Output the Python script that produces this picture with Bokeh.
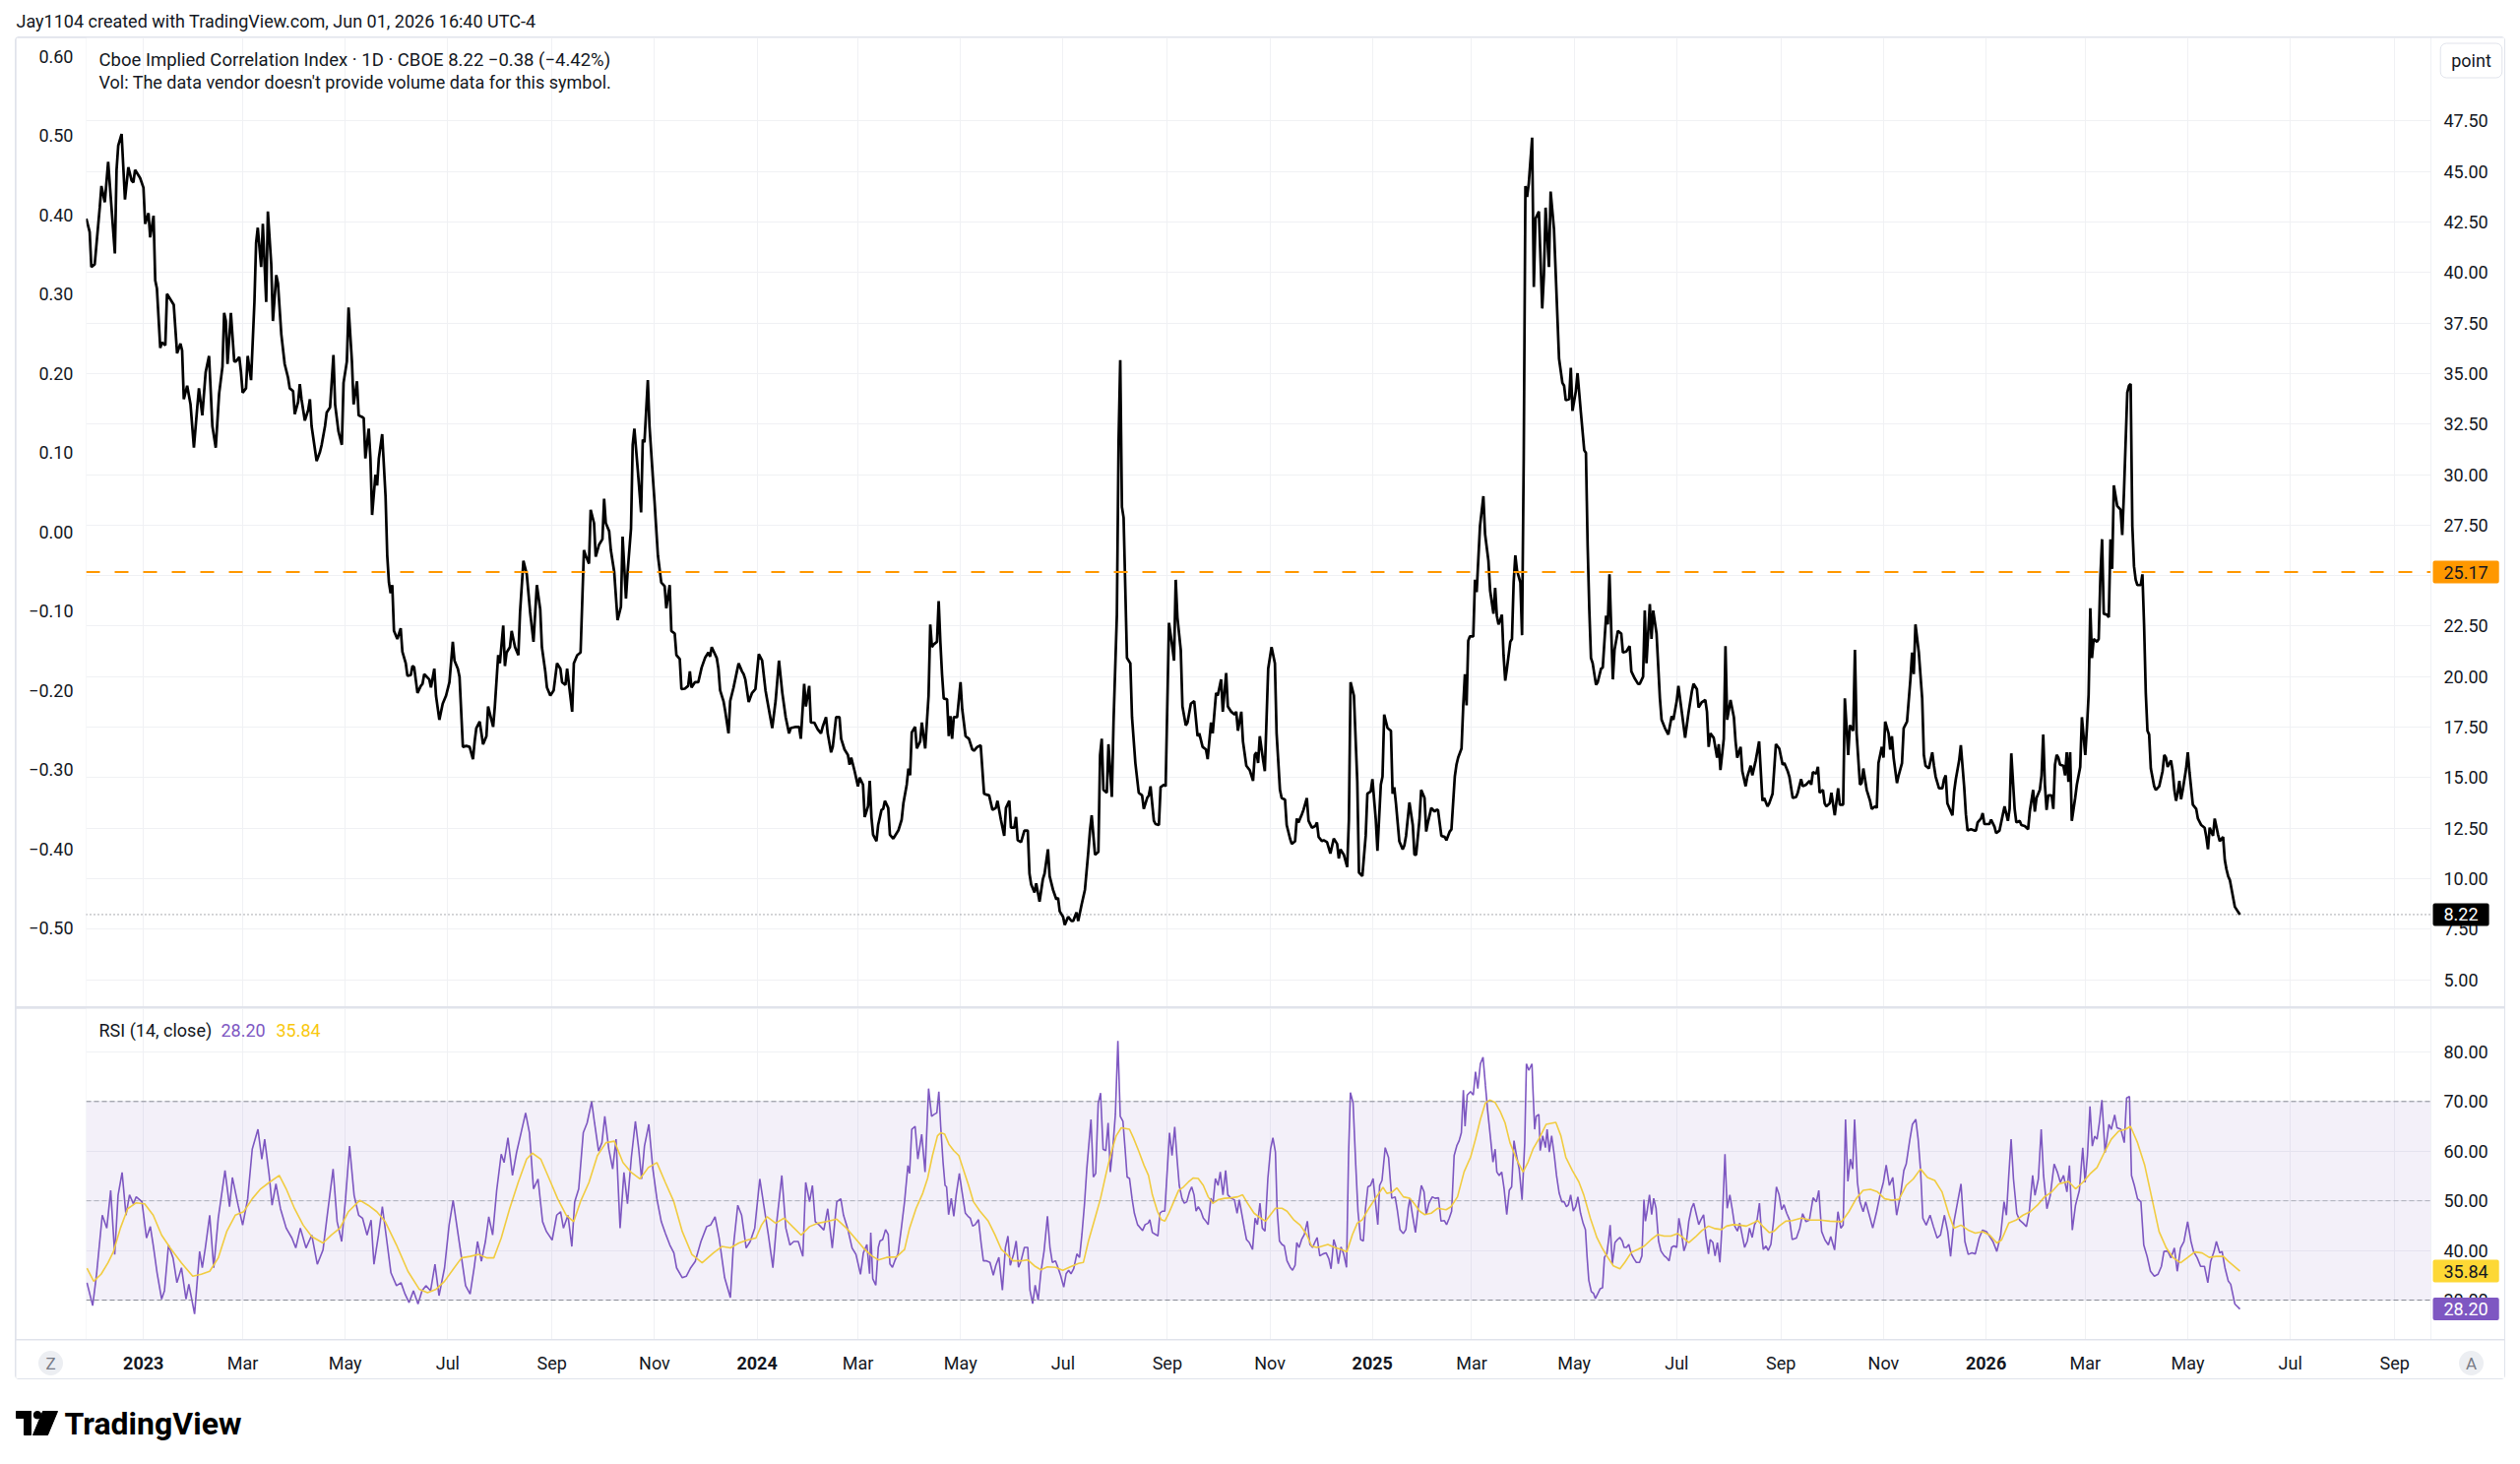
import numpy as np
import pandas as pd
from bokeh.plotting import figure
from bokeh.layouts import column, row
from bokeh.models import (Range1d, LinearAxis, FixedTicker, Span, BoxAnnotation, Label, Grid)
from bokeh.core.properties import value
from bokeh.embed import file_html
from bokeh.resources import INLINE

# ---------------------------------------------------------------- data
# x values are days counted from 2023-01-01
price = [(-34,42.67),(-32,42.01),(-31,40.27),(-29,40.41),(-26,43.21),(-25,44.28),(-23,43.48),(-21,45.48),
(-17,40.94),(-16,45.08),(-15,46.28),(-13,46.86),(-11,43.61),(-9,45.21),(-7,44.54),(-6,44.46),(-5,45.08),
(-2,44.68),(0,44.20),(1,42.41),(3,42.94),(4,41.74),(6,42.81),(7,39.61),(8,39.21),(10,36.27),(11,36.54),
(13,36.40),(14,38.94),(18,38.41),(20,36.00),(22,36.48),(23,36.14),(24,33.73),(26,34.40),(28,33.47),
(30,31.33),(32,33.33),(33,34.27),(35,32.93),(37,35.07),(39,35.87),(41,32.40),(43,31.33),(45,34.00),
(47,35.34),(48,38.00),(49,37.60),(50,35.47),(52,38.00),(54,35.60),(55,35.60),(57,35.82),(58,35.07),
(59,34.05),(61,34.27),(62,35.87),(64,34.67),(66,38.54),(67,41.47),(68,42.22),(70,40.27),(71,42.41),
(73,38.54),(74,43.02),(76,40.41),(77,37.60),(79,39.87),(80,39.47),(82,36.94),(84,35.47),(86,34.80),
(87,34.27),(89,34.13),(90,32.99),(92,33.60),(93,34.48),(94,33.73),(96,32.67),(98,33.20),(99,33.73),
(100,32.40),(103,30.67),(105,31.12),(106,31.47),(108,32.40),(109,33.07),(111,33.33),(113,35.92),
(114,33.47),(116,32.13),(118,31.47),(119,34.54),(121,35.60),(122,38.27),(124,35.60),(125,33.47),
(127,34.62),(128,32.93),(130,32.85),(131,32.80),(132,30.80),(134,32.27),(135,30.80),(136,28.00),
(138,30.00),(139,29.46),(140,30.80),(142,32.00),(144,28.93),(145,26.00),(146,24.66),(147,24.13),
(148,24.53),(149,22.26),(151,21.86),(153,22.39),(154,21.24),(156,20.66),(157,20.04),(159,20.07),
(160,20.52),(161,20.47),(163,19.19),(165,19.54),(166,19.64),(167,20.12),(170,19.86),(171,19.46),
(173,20.39),(174,19.06),(176,17.86),(178,18.66),(180,19.06),(182,19.72),(184,21.72),(185,20.79),
(187,20.39),(188,19.99),(190,16.52),(192,16.57),(194,16.52),(196,15.91),(197,16.79),(198,17.45),
(200,17.77),(202,16.65),(204,17.05),(205,18.52),(208,17.51),(209,18.52),(211,21.06),(212,20.66),
(214,22.53),(215,20.52),(216,21.19),(218,21.46),(219,22.26),(221,21.46),(223,21.06),(224,23.19),
(226,25.73),(228,25.06),(230,23.19),(232,21.72),(234,24.53),(236,23.33),(237,21.46),(239,20.26),
(240,19.46),(242,19.06),(244,19.32),(246,20.66),(248,20.39),(249,19.72),(251,19.59),(252,20.39),
(255,18.26),(256,20.66),(258,21.06),(260,21.19),(262,26.26),(263,26.00),(265,25.59),(266,28.26),
(268,27.60),(269,25.94),(271,26.53),(273,26.80),(274,28.80),(275,27.60),(277,27.20),(278,26.26),
(280,25.19),(282,22.79),(284,23.46),(285,26.93),(287,23.86),(288,25.19),(290,27.33),(291,31.47),
(292,32.27),(294,30.26),(296,28.13),(297,31.73),(298,31.60),(300,34.67),(301,32.40),(303,29.86),
(304,28.66),(306,25.99),(308,24.66),(310,24.47),(311,23.38),(313,24.53),(314,22.26),(316,22.13),
(317,21.06),(319,20.87),(320,19.38),(322,19.40),(324,19.54),(325,20.26),(326,19.46),(328,19.72),
(330,19.72),(332,20.44),(334,20.92),(336,21.19),(337,20.98),(338,21.46),(341,20.92),(342,20.39),
(343,19.32),(345,18.79),(346,18.31),(348,17.19),(349,18.79),(351,19.46),(353,20.26),(354,20.66),
(356,20.26),(357,20.12),(358,19.86),(360,18.74),(362,19.19),(364,19.38),(366,21.11),(368,20.79),
(370,19.32),(371,18.84),(374,17.45),(376,18.79),(378,20.79),(380,19.19),(382,17.99),(384,17.19),
(385,17.45),(388,17.51),(390,17.51),(391,16.92),(393,19.64),(394,18.52),(396,19.54),(397,17.72),
(399,17.72),(401,17.40),(403,17.19),(404,17.51),(406,17.99),(407,17.19),(409,16.25),(410,16.52),
(412,17.99),(414,17.99),(415,16.92),(417,16.39),(419,16.12),(420,15.64),(421,15.99),(423,15.32),
(425,14.57),(426,15.00),(428,14.65),(429,13.05),(431,13.58),(432,14.84),(433,13.05),(434,12.17),
(436,11.85),(437,12.65),(439,13.40),(440,13.45),(441,13.85),(443,13.50),(444,12.17),(446,11.98),
(448,12.25),(449,12.38),(451,12.92),(452,13.72),(454,14.65),(455,15.45),(456,15.11),(457,17.24),
(459,17.51),(460,16.44),(462,16.79),(463,17.72),(465,16.44),(467,19.06),(468,22.58),(469,21.46),
(470,21.59),(472,21.72),(473,23.73),(474,21.72),(475,20.12),(476,18.92),(478,18.87),(479,17.05),
(480,18.04),(481,16.92),(482,17.99),(484,17.99),(486,19.72),(487,18.39),(489,17.05),(491,16.92),
(493,16.39),(494,16.33),(496,16.52),(498,16.60),(500,14.20),(501,14.17),(503,14.12),(505,13.40),
(507,13.50),(508,13.85),(510,12.92),(512,12.12),(513,13.50),(515,13.85),(516,12.52),(518,12.52),
(519,13.05),(520,11.90),(522,11.80),(524,12.38),(526,12.38),(527,10.25),(528,9.72),(530,9.31),
(531,9.77),(533,8.86),(535,9.98),(536,10.25),(538,11.45),(539,10.12),(541,9.45),(543,8.97),
(544,9.05),(545,8.38),(547,8.11),(548,7.71),(550,8.11),(552,7.90),(553,7.90),(555,8.33),(556,7.90),
(558,8.70),(560,9.45),(562,11.32),(563,12.38),(564,13.13),(566,11.18),(568,11.32),(569,16.12),
(570,16.92),(571,14.39),(573,14.25),(574,16.65),(576,14.04),(577,17.72),(579,23.06),(580,31.60),
(581,35.66),(582,28.40),(583,27.86),(585,20.92),(587,20.66),(588,17.99),(590,15.72),(592,14.25),
(594,14.12),(595,13.45),(597,13.99),(598,14.12),(599,14.57),(601,12.86),(602,12.70),(604,12.65),
(605,14.52),(607,14.65),(608,14.57),(610,22.66),(612,21.46),(613,20.79),(614,24.79),(615,22.93),
(617,21.32),(618,18.52),(620,17.59),(621,17.72),(623,18.66),(625,18.79),(627,17.05),(628,17.19),
(630,16.52),(632,16.39),(633,15.91),(635,17.72),(636,17.19),(638,19.19),(639,19.06),(641,19.86),
(642,18.26),(644,20.18),(645,18.52),(647,18.26),(649,18.12),(650,18.26),(651,17.32),(653,18.26),
(654,16.79),(656,15.59),(658,15.37),(660,14.84),(661,16.12),(662,16.25),(663,15.72),(664,17.05),
(666,15.85),(667,15.32),(669,20.39),(671,21.46),(673,20.66),(674,17.19),(676,14.39),(677,13.99),
(679,13.91),(680,12.65),(682,11.98),(683,11.72),(685,11.85),(686,12.97),(687,12.78),(689,13.18),
(690,13.40),(692,13.99),(693,12.86),(695,12.52),(697,12.60),(698,12.78),(699,12.06),(701,11.85),
(702,11.90),(704,11.80),(706,11.24),(708,11.98),(710,11.72),(711,11.00),(712,11.45),(714,11.18),
(716,10.57),(717,12.92),(718,19.72),(720,19.06),(722,14.79),(723,10.30),(725,10.12),(727,12.12),
(728,14.20),(730,14.31),(731,14.92),(733,12.92),(734,11.37),(736,14.65),(737,15.05),(738,18.12),
(740,17.45),(742,17.32),(743,14.20),(744,14.52),(745,13.72),(747,11.85),(749,11.45),(750,11.64),
(751,12.12),(753,13.77),(755,12.65),(756,11.18),(757,11.18),(759,12.92),(760,14.39),(762,13.99),
(763,12.33),(764,12.78),(766,13.50),(768,13.32),(769,13.40),(770,13.40),(772,12.12),(774,12.06),
(775,11.90),(777,12.33),(778,12.44),(780,15.05),(781,15.64),(782,15.99),(784,16.44),(785,18.52),
(786,20.12),(787,18.58),(788,21.78),(789,21.99),(791,21.99),(792,24.79),(793,24.18),(795,27.46),
(797,28.93),(798,27.06),(800,25.73),(801,24.26),(803,23.11),(804,24.39),(805,23.01),(806,22.58),
(807,22.79),(808,23.06),(809,21.06),(810,19.80),(811,20.39),(813,21.72),(814,21.86),(815,24.66),
(816,26.00),(817,25.25),(819,24.66),(820,22.05),(821,30.80),(822,44.28),(823,43.74),(824,44.41),
(826,46.68),(827,39.29),(828,42.67),(830,43.02),(832,38.22),(833,39.87),(834,43.21),(836,40.27),
(837,44.01),(839,42.14),(842,35.74),(844,34.54),(845,34.40),(846,33.68),(848,33.73),(849,35.28),
(850,33.15),(852,34.13),(853,35.02),(855,33.07),(857,31.20),(858,31.07),(859,26.53),(860,23.33),
(861,20.92),(862,20.66),(864,19.59),(865,19.72),(867,20.39),(868,20.44),(870,23.01),(871,22.58),
(872,25.06),(874,19.86),(875,21.32),(877,22.26),(879,22.13),(880,21.19),(882,21.24),(884,21.51),
(885,20.26),(887,19.91),(889,19.64),(890,19.64),(892,19.99),(893,23.27),(894,20.66),(896,23.59),
(897,21.86),(898,23.27),(900,22.13),(902,18.92),(903,17.86),(905,17.45),(907,17.13),(909,18.04),
(910,17.86),(912,18.79),(913,19.54),(915,18.26),(917,16.97),(919,18.20),(921,19.27),(922,19.64),
(924,19.38),(925,18.47),(927,18.74),(929,18.84),(930,18.26),(931,16.52),(932,17.19),(934,16.97),
(936,15.99),(937,16.65),(938,15.37),(940,16.92),(941,21.51),(942,17.86),(944,18.84),(946,17.99),
(947,16.79),(948,15.99),(950,16.52),(951,15.32),(953,14.57),(954,15.05),(956,15.59),(957,15.11),
(959,15.85),(961,16.79),(963,13.85),(964,13.99),(966,13.58),(967,13.72),(969,14.20),(971,16.65),
(973,16.44),(975,15.64),(976,15.72),(978,15.32),(979,15.05),(981,13.99),(983,14.04),(984,14.25),
(986,14.92),(987,14.57),(989,14.65),(991,14.84),(992,14.65),(993,15.27),(995,15.19),(996,15.53),
(997,14.25),(999,14.39),(1000,13.72),(1001,13.58),(1003,13.72),(1004,14.25),(1006,13.13),
(1008,14.47),(1009,13.66),(1011,13.66),(1012,18.92),(1014,16.12),(1015,17.59),(1017,17.32),
(1018,21.32),(1019,17.19),(1021,14.65),(1022,14.73),(1023,15.45),(1025,14.39),(1027,13.85),
(1028,13.45),(1030,13.58),(1031,13.50),(1032,15.72),(1034,16.52),(1035,15.99),(1036,17.77),
(1038,17.19),(1039,16.39),(1040,17.05),(1041,15.99),(1043,14.73),(1044,15.11),(1046,15.72),
(1047,17.45),(1049,17.77),(1051,19.86),(1052,21.19),(1053,20.12),(1054,22.58),(1056,21.19),
(1058,18.92),(1059,16.12),(1060,15.59),(1062,15.45),(1064,16.25),(1065,15.59),(1066,15.05),
(1068,14.47),(1070,14.47),(1071,14.92),(1072,15.11),(1073,13.72),(1076,13.13),(1077,14.31),
(1078,14.92),(1080,15.85),(1081,16.60),(1083,14.52),(1084,13.18),(1085,12.38),(1087,12.44),
(1089,12.38),(1090,12.38),(1091,12.78),(1093,12.97),(1094,13.24),(1095,12.70),(1096,12.70),
(1098,12.70),(1099,12.92),(1101,12.57),(1102,12.25),(1104,12.38),(1106,13.18),(1107,13.58),
(1109,12.86),(1110,13.45),(1111,16.20),(1113,13.45),(1114,12.78),(1116,12.86),(1117,12.65),
(1119,12.60),(1121,12.44),(1122,13.32),(1124,14.39),(1125,13.32),(1126,13.99),(1128,14.39),
(1129,15.11),(1130,17.13),(1131,14.65),(1132,13.40),(1133,14.12),(1135,14.12),(1136,13.45),
(1137,15.64),(1138,16.12),(1139,15.99),(1140,15.64),(1142,15.59),(1143,15.11),(1144,16.25),
(1145,14.79),(1146,16.25),(1147,12.86),(1149,13.99),(1150,14.65),(1152,15.53),(1153,17.99),
(1154,17.05),(1155,16.12),(1156,17.45),(1157,19.11),(1158,23.38),(1159,20.92),(1160,21.86),
(1162,21.72),(1163,21.86),(1164,24.93),(1165,26.80),(1166,23.11),(1168,23.06),(1169,22.93),
(1170,26.80),(1171,25.33),(1172,29.46),(1174,28.45),(1176,28.26),(1177,27.01),(1178,29.06),
(1180,34.05),(1181,34.40),(1182,34.48),(1183,27.46),(1184,25.46),(1185,24.79),(1186,24.53),
(1188,24.53),(1189,25.06),(1190,22.53),(1191,19.19),(1192,17.32),(1193,17.13),(1194,15.45),
(1196,14.57),(1197,14.39),(1199,14.57),(1201,15.32),(1202,16.12),(1203,15.99),(1204,15.53),
(1206,15.85),(1207,15.32),(1208,14.39),(1209,13.85),(1210,14.25),(1211,14.84),(1212,13.93),
(1213,14.39),(1215,15.45),(1216,16.25),(1217,15.27),(1219,13.66),(1221,13.45),(1222,12.97),
(1224,12.65),(1226,12.52),(1227,12.06),(1228,11.45),(1229,12.52),(1231,12.12),(1232,12.97),
(1234,12.17),(1235,11.85),(1237,12.06),(1238,10.92),(1239,10.46),(1240,10.12),(1241,9.93),
(1244,8.60),(1247,8.22)]

rsi = [(-33.6,33.5),(-30.2,28.9),(-27.9,35.2),(-24.5,47.1),(-21.8,44.5),(-19.5,52.1),(-17.1,39.2),
(-15.1,51.1),(-12.7,55.7),(-10.4,47.1),(-8.3,51.2),(-6.0,49.4),(-4.3,50.8),(-0.9,49.8),(1.8,42.5),
(4.1,44.8),(5.8,41.1),(8.1,35.5),(10.8,30.2),(12.5,31.9),(14.9,41.1),(17.6,38.5),(19.9,33.5),
(22.6,36.5),(25.3,30.2),(27.0,33.2),(30.4,27.2),(33.4,39.8),(35.0,36.5),(36.8,40.5),(39.4,47.1),
(41.8,36.5),(44.5,46.5),(48.5,56.1),(51.2,48.8),(52.9,54.7),(56.3,49.1),(59.0,45.1),(62.0,50.4),
(64.7,60.4),(68.1,64.4),(70.4,58.4),(72.1,62.4),(74.8,55.1),(76.5,49.1),(78.8,53.4),(81.5,48.4),
(84.9,44.5),(88.3,42.5),(90.6,40.5),(93.3,44.5),(96.7,40.5),(100.1,43.1),(103.4,37.2),(106.8,40.1),
(109.1,46.5),(112.8,56.4),(115.2,45.8),(117.9,41.8),(120.2,50.4),(122.6,61.0),(125.3,51.1),
(128.0,47.1),(130.3,46.5),(133.0,43.1),(135.4,46.1),(137.1,37.2),(139.8,43.1),(142.1,48.8),
(144.8,41.8),(147.2,35.5),(150.5,32.9),(153.2,33.5),(155.6,31.2),(158.0,29.5),(160.6,31.9),
(163.3,29.2),(165.7,31.9),(168.0,32.9),(170.8,31.9),(173.4,37.2),(175.8,30.9),(179.1,36.5),
(181.8,45.1),(184.2,50.1),(186.9,43.8),(189.2,38.5),(191.6,32.9),(194.3,31.2),(196.7,36.5),
(198.7,41.8),(201.0,37.8),(203.4,41.8),(205.4,46.8),(207.7,43.1),(210.1,52.1),(212.8,59.4),
(214.5,57.7),(216.8,62.7),(219.5,55.1),(221.9,59.7),(224.6,63.7),(227.3,67.7),(229.6,63.7),
(232.0,52.4),(234.7,54.4),(237.4,45.8),(239.7,43.8),(243.1,42.1),(245.8,47.1),(248.1,47.8),
(249.8,44.5),(252.5,47.1),(254.8,40.8),(256.5,49.8),(258.9,52.4),(261.6,63.7),(263.9,65.7),
(266.6,70.0),(268.3,65.7),(270.7,60.0),(272.7,61.7),(274.4,67.0),(276.8,60.4),(279.1,56.4),
(281.1,62.4),(283.5,44.5),(285.8,55.7),(287.9,49.4),(290.2,58.7),(292.6,66.0),(294.6,60.4),
(296.3,54.4),(298.0,61.0),(300.6,65.4),(303.0,56.4),(305.4,50.4),(308.0,45.8),(310.4,43.5),
(313.1,41.1),(315.5,39.5),(317.1,36.5),(320.5,34.5),(322.9,34.8),(325.5,36.5),(328.2,37.8),
(331.6,41.8),(335.0,44.8),(337.3,45.1),(340.0,46.8),(342.4,42.5),(345.7,34.5),(349.1,30.5),
(350.8,40.5),(353.5,49.1),(355.8,47.1),(358.5,40.5),(360.9,41.8),(363.6,44.5),(366.6,54.4),
(369.3,48.4),(371.7,43.1),(374.4,36.5),(376.7,45.8),(379.7,55.1),(382.1,44.5),(384.5,41.1),
(386.8,41.8),(389.5,41.8),(392.2,38.8),(393.9,53.7),(396.2,49.8),(397.9,53.1),(399.6,45.8),
(402.0,45.1),(404.7,44.1),(407.0,48.4),(409.7,40.5),(412.4,49.8),(414.8,50.4),(416.4,47.1),
(418.8,44.5),(421.5,40.5),(423.8,39.2),(426.5,35.2),(428.2,39.5),(430.3,41.2),(431.9,35.3),
(432.6,43.6),(433.8,34.3),(435.6,33.0),(437.1,40.6),(438.1,41.9),(439.7,42.2),(441.4,44.2),
(443.0,43.2),(444.0,37.3),(445.5,36.6),(446.9,37.9),(448.8,39.3),(450.8,44.5),(452.7,49.8),
(454.7,57.1),(455.7,55.5),(457.0,64.4),(459.0,65.0),(460.6,58.4),(462.9,63.4),(464.9,55.8),
(467.0,72.6),(468.8,67.0),(470.3,67.4),(471.9,67.7),(473.1,72.0),(474.2,65.0),(475.6,57.8),
(476.8,53.1),(477.7,52.8),(478.9,47.2),(480.5,50.5),(482.0,46.9),(483.4,51.2),(485.3,55.5),
(486.9,51.8),(488.9,47.5),(490.4,46.9),(491.8,46.5),(493.2,44.9),(494.7,45.2),(496.7,46.2),
(498.2,41.6),(499.6,37.9),(501.5,37.9),(503.5,37.6),(505.5,35.0),(507.0,37.0),(508.8,38.6),
(510.9,32.0),(512.7,40.6),(514.2,42.9),(515.6,37.0),(517.6,39.3),(519.1,41.9),(520.5,36.6),
(522.0,37.9),(524.0,40.6),(526.0,40.6),(527.3,32.0),(528.9,29.3),(530.4,33.0),(532.2,30.0),
(533.8,35.6),(535.7,39.9),(537.7,46.9),(539.2,40.6),(540.6,37.6),(542.5,37.9),(543.9,36.6),
(545.5,35.0),(547.4,32.6),(548.8,35.3),(550.3,36.0),(551.7,35.3),(553.3,36.3),(555.2,39.3),
(556.8,38.6),(558.2,43.2),(559.7,49.2),(561.1,56.4),(563.6,66.4),(565.0,54.8),(566.4,55.5),
(567.9,69.7),(569.3,71.7),(570.8,60.4),(572.4,60.1),(573.8,65.7),(575.1,55.8),(576.7,61.1),
(578.1,67.4),(579.6,82.2),(581.0,67.0),(582.6,66.0),(583.9,60.4),(585.1,54.8),(586.5,54.5),
(588.0,50.5),(589.4,47.5),(591.3,45.2),(594.3,44.0),(595.8,45.2),(597.6,45.5),(598.6,46.2),
(600.1,43.6),(602.1,43.2),(603.4,42.9),(604.6,47.5),(606.0,47.9),(607.5,47.9),(608.9,55.8),
(610.3,63.7),(611.8,59.1),(613.4,64.9),(614.8,58.4),(616.1,53.1),(617.7,50.5),(619.1,49.5),
(620.6,49.8),(622.2,51.8),(623.5,52.8),(624.9,51.2),(626.1,47.9),(627.4,48.8),(629.0,47.9),
(630.4,46.5),(631.9,45.9),(633.3,45.2),(634.9,50.5),(636.2,49.5),(637.6,54.5),(639.2,53.1),
(640.5,55.8),(642.1,51.2),(643.7,56.1),(645.0,51.2),(647.0,50.5),(648.9,50.2),(650.5,47.5),
(651.8,50.2),(653.4,47.2),(654.8,44.5),(656.1,42.2),(657.7,41.6),(659.7,40.2),(661.2,46.5),
(662.6,45.2),(664.1,49.5),(665.5,44.5),(667.1,43.9),(668.8,54.5),(670.4,60.4),(671.8,62.7),
(673.3,59.8),(674.3,48.5),(675.7,41.9),(677.2,41.2),(678.6,40.9),(680.2,37.9),(682.1,36.6),
(683.5,36.0),(685.0,37.0),(686.0,41.6),(687.4,40.6),(688.9,42.2),(690.5,43.2),(692.3,45.9),
(693.8,41.2),(695.4,40.6),(696.7,41.6),(698.1,42.6),(699.7,38.9),(701.6,39.3),(703.5,39.5),
(705.1,38.3),(706.4,36.3),(708.0,42.2),(709.4,40.6),(710.7,37.3),(712.3,40.7),(713.9,39.3),
(715.6,36.6),(716.8,59.1),(717.9,71.8),(719.5,69.7),(721.1,57.1),(722.4,47.9),(724.0,42.2),
(725.6,41.9),(726.9,48.5),(728.3,52.8),(729.9,53.1),(731.4,54.5),(732.8,49.8),(734.2,45.2),
(735.3,53.1),(736.7,54.1),(738.6,60.7),(740.6,58.7),(742.5,50.5),(744.5,50.8),(745.9,47.9),
(747.4,44.2),(749.4,43.4),(750.9,44.2),(752.3,48.5),(753.3,50.5),(754.8,47.2),(756.6,43.6),
(758.2,48.5),(760.1,53.1),(761.7,51.8),(763.0,47.2),(764.6,49.5),(766.6,50.8),(768.3,50.5),
(770.3,50.6),(771.8,45.9),(773.8,46.0),(775.1,45.2),(776.7,46.5),(778.1,47.9),(779.6,59.1),
(781.2,61.1),(782.6,62.1),(783.9,63.7),(785.1,72.3),(786.1,65.0),(787.4,71.3),(789.4,72.0),
(791.0,71.3),(792.3,76.0),(793.7,72.6),(795.2,77.6),(796.8,78.9),(798.2,73.3),(799.5,68.3),
(801.1,63.1),(802.7,57.8),(804.0,60.4),(805.0,55.8),(806.4,55.1),(807.9,55.8),(809.3,52.5),
(810.9,47.2),(812.4,52.1),(813.8,52.8),(815.2,62.1),(816.7,59.1),(818.3,56.4),(820.0,50.2),
(821.6,61.7),(822.6,77.6),(824.0,76.3),(824.9,76.9),(825.9,77.6),(826.5,72.3),(827.5,64.4),
(828.4,67.0),(830.0,67.4),(830.8,60.1),(832.3,63.1),(833.9,60.7),(834.9,64.4),(836.2,59.8),
(837.6,63.1),(839.2,59.1),(840.5,55.1),(842.1,51.5),(843.7,49.8),(845.0,49.8),(846.4,48.8),
(847.6,49.2),(848.9,51.2),(850.5,47.9),(851.9,48.8),(853.2,50.8),(854.8,47.5),(856.3,45.5),
(857.7,44.2),(858.7,38.6),(859.7,34.0),(861.2,31.7),(862.6,31.3),(863.6,30.3),(865.1,31.3),
(866.5,32.3),(867.9,32.5),(869.0,38.6),(870.4,39.3),(871.4,41.9),(872.4,45.1),(873.7,37.3),
(875.3,41.6),(876.8,42.2),(878.2,42.6),(879.6,41.9),(880.7,40.6),(882.1,40.6),(883.5,41.2),
(885.0,39.3),(886.6,38.3),(888.0,37.6),(889.9,37.6),(891.3,38.9),(892.5,50.2),(893.4,45.9),
(894.4,47.9),(895.8,51.2),(897.1,47.2),(898.3,50.5),(899.7,48.5),(901.2,41.9),(902.6,39.9),
(904.6,38.9),(906.1,38.5),(907.5,37.9),(908.9,40.6),(910.4,40.9),(912.0,40.6),(913.3,46.5),
(914.7,43.9),(916.3,39.9),(917.6,41.2),(919.2,45.9),(920.8,48.5),(922.1,49.5),(923.7,47.2),
(925.1,45.2),(926.4,46.2),(928.0,47.2),(929.4,42.6),(930.9,39.3),(931.9,42.2),(933.5,41.6),
(934.8,38.9),(936.2,41.6),(937.7,37.6),(939.1,45.9),(940.7,59.4),(942.0,48.5),(943.6,51.2),
(945.2,47.9),(946.5,44.9),(948.1,43.9),(949.5,45.5),(951.0,42.9),(952.4,40.6),(954.0,41.9),
(955.3,44.5),(956.9,42.6),(958.3,45.2),(959.8,46.2),(961.2,49.5),(962.5,43.2),(963.5,40.2),
(965.1,40.9),(966.4,40.0),(968.0,41.2),(969.6,45.9),(971.3,52.8),(972.9,51.2),(974.4,48.2),
(975.8,49.2),(977.4,47.5),(979.1,46.2),(980.7,42.2),(983.2,42.5),(985.2,44.5),(986.9,47.4),
(988.9,45.8),(990.9,46.1),(993.1,50.6),(995.1,49.8),(996.5,52.1),(998.2,43.8),(1000.2,42.1),
(1002.2,41.1),(1003.6,42.8),(1005.9,40.1),(1007.9,47.8),(1009.6,44.5),(1011.0,45.1),(1012.4,66.4),
(1013.8,53.9),(1015.3,58.4),(1016.7,56.4),(1017.8,66.4),(1019.5,53.7),(1021.0,49.8),(1022.9,47.8),
(1024.4,49.8),(1026.3,47.4),(1028.6,44.5),(1030.9,47.8),(1032.9,51.1),(1034.9,53.7),(1036.6,57.2),
(1038.5,53.1),(1040.5,54.7),(1042.8,47.1),(1045.1,51.1),(1047.1,56.1),(1048.5,57.4),(1050.7,62.4),
(1052.2,65.4),(1054.2,66.4),(1055.6,62.4),(1057.0,56.4),(1058.4,46.5),(1060.4,45.1),(1062.7,47.1),
(1064.7,44.8),(1066.9,42.5),(1068.9,43.1),(1071.2,47.1),(1073.2,43.8),(1074.9,38.8),(1076.9,45.8),
(1079.1,49.8),(1081.1,53.4),(1083.4,41.8),(1085.4,39.2),(1087.6,39.5),(1089.6,39.3),(1091.9,42.5),
(1093.9,44.1),(1096.2,43.8),(1098.2,42.8),(1100.1,41.8),(1102.4,39.8),(1104.7,43.1),(1106.7,49.8),
(1108.1,47.1),(1109.5,55.1),(1110.9,62.4),(1112.3,54.4),(1114.3,47.4),(1116.0,46.1),(1118.0,45.5),
(1120.0,44.8),(1121.7,47.8),(1123.7,55.1),(1125.1,51.1),(1127.1,54.4),(1128.8,64.4),(1130.2,55.1),
(1132.2,48.4),(1134.2,51.1),(1136.5,57.4),(1138.5,55.7),(1140.2,53.7),(1142.1,55.1),(1144.1,51.8),
(1145.6,57.1),(1147.3,44.1),(1149.2,49.1),(1151.5,52.1),(1153.5,60.7),(1154.9,53.7),(1156.3,59.1),
(1157.8,69.0),(1159.2,61.0),(1160.6,63.0),(1162.0,62.4),(1163.4,65.7),(1164.9,70.3),(1166.8,59.7),
(1169.1,65.4),(1170.5,64.4),(1172.5,67.3),(1173.9,64.7),(1176.2,64.4),(1178.2,61.7),(1179.6,70.7),
(1181.3,71.0),(1182.5,55.1),(1184.2,53.1),(1186.1,50.4),(1188.1,49.8),(1189.8,41.1),(1191.8,38.8),
(1193.8,35.8),(1196.1,34.8),(1198.3,35.2),(1200.3,36.8),(1201.8,39.8),(1204.0,39.9),(1206.0,38.5),
(1208.0,40.5),(1209.7,35.8),(1211.7,40.5),(1213.7,41.8),(1215.9,45.8),(1217.9,41.8),(1219.4,39.8),
(1221.6,38.5),(1223.6,36.8),(1225.9,36.8),(1227.9,33.5),(1229.6,37.8),(1231.6,39.8),(1233.0,41.8),
(1235.0,39.5),(1236.4,39.8),(1238.1,36.5),(1240.1,33.8),(1241.5,33.2),(1244.0,29.2),(1247.0,28.2)]

rsi_ma = [(-33.6,36.4),(-29.6,33.8),(-25.2,35.2),(-21.1,37.5),(-17.8,39.8),(-13.7,44.5),(-9.4,48.4),
(-4.3,49.6),(0.7,49.4),(5.8,47.1),(10.8,43.1),(15.9,40.5),(22.6,37.5),(29.3,34.8),(34.4,35.2),
(39.4,35.8),(44.5,38.5),(49.5,43.8),(54.6,47.1),(59.6,47.8),(64.7,50.4),(69.7,52.4),(74.8,53.7),
(80.8,55.1),(84.9,52.4),(89.9,48.4),(95.0,45.1),(100.1,42.8),(106.8,41.5),(111.8,43.1),(116.9,44.5),
(121.9,47.8),(128.7,50.1),(133.7,49.1),(138.8,47.8),(143.8,45.8),(150.5,41.1),(157.3,35.8),
(164.0,32.2),(169.0,31.5),(174.1,32.2),(179.1,33.8),(184.2,36.2),(189.2,38.5),(194.3,38.8),
(199.3,39.2),(204.4,38.5),(208.4,38.5),(212.8,42.5),(217.8,48.4),(222.9,53.7),(227.9,58.4),
(231.3,59.6),(236.3,58.4),(241.4,54.4),(246.4,50.4),(251.5,47.1),(255.9,45.8),(259.9,49.8),
(265.0,53.7),(270.0,59.1),(275.1,61.7),(280.1,62.0),(285.2,57.7),(290.2,55.7),(295.3,54.4),
(300.3,56.7),(305.4,57.7),(310.4,53.7),(315.5,49.8),(320.5,43.8),(326.2,39.2),(332.3,37.5),
(339.0,39.5),(344.1,40.8),(349.1,40.5),(354.2,41.5),(359.2,42.1),(364.3,42.5),(367.6,45.1),
(371.0,46.8),(376.0,45.5),(381.1,46.5),(386.1,44.8),(391.2,43.1),(396.2,44.8),(401.3,45.5),
(406.3,45.8),(412.4,46.3),(418.1,44.5),(423.2,42.5),(428.2,40.5),(433.2,38.9),(437.1,38.1),
(442.0,38.6),(447.9,38.7),(452.7,40.2),(455.7,44.5),(459.6,48.5),(463.5,51.5),(466.4,54.5),
(469.3,59.1),(472.3,63.1),(474.2,63.7),(476.6,63.4),(479.1,61.4),(482.0,60.1),(485.0,59.1),
(487.9,56.1),(490.8,53.1),(493.7,49.8),(497.6,47.9),(502.5,45.9),(506.4,43.2),(510.3,40.2),
(513.3,39.3),(517.2,37.9),(522.0,37.9),(526.0,38.1),(529.9,36.9),(533.8,36.1),(537.7,36.7),
(542.5,36.6),(546.8,36.0),(551.3,36.7),(556.2,37.4),(559.1,37.6),(562.1,41.9),(566.0,46.5),
(569.3,50.5),(572.8,55.8),(575.7,59.8),(578.6,63.1),(581.6,64.7),(586.5,64.4),(588.8,62.7),
(591.9,60.1),(595.2,57.1),(597.8,55.1),(600.1,51.2),(603.1,47.9),(605.4,46.2),(607.5,45.9),
(609.9,47.5),(612.8,49.8),(615.7,52.1),(618.7,52.8),(621.6,53.8),(624.5,54.6),(627.4,54.5),
(630.4,53.1),(633.3,50.8),(636.2,49.5),(639.2,50.2),(643.1,50.5),(647.0,50.6),(650.9,50.8),
(653.8,51.2),(656.7,49.5),(660.6,47.5),(664.5,46.5),(667.5,45.9),(670.4,47.2),(673.3,48.5),
(677.2,48.5),(680.2,47.9),(684.1,46.2),(688.0,45.1),(691.9,43.2),(694.8,40.9),(697.7,40.6),
(699.6,40.7),(704.5,41.2),(708.4,40.6),(712.3,40.2),(715.8,39.7),(719.1,43.2),(722.0,45.5),
(725.0,46.2),(728.9,48.5),(732.8,50.5),(737.3,52.7),(739.6,51.5),(742.5,51.7),(745.5,52.6),
(749.4,50.8),(753.3,50.5),(756.2,49.3),(759.1,47.9),(762.1,47.2),(766.0,47.5),(769.9,48.5),
(774.8,48.2),(777.7,48.8),(781.6,50.8),(785.5,55.8),(789.4,58.8),(792.3,62.4),(795.2,66.4),
(798.2,69.7),(800.7,70.3),(804.0,69.8),(807.0,68.0),(809.9,65.7),(812.8,61.7),(816.7,58.4),
(820.6,55.8),(823.6,57.8),(826.5,60.4),(830.4,62.7),(834.3,65.4),(837.2,65.6),(840.1,65.8),
(843.1,63.1),(846.0,58.8),(849.9,56.1),(853.8,53.8),(856.7,51.2),(860.6,46.5),(864.5,42.6),
(867.5,40.6),(870.4,38.9),(874.3,36.9),(878.2,36.3),(881.1,37.6),(885.0,39.6),(888.9,40.2),
(892.8,40.9),(896.8,42.2),(900.7,43.2),(904.6,42.9),(908.5,42.9),(912.4,43.4),(915.3,42.7),
(919.2,41.6),(923.1,42.7),(927.0,44.0),(930.9,44.9),(934.8,44.4),(938.7,44.2),(941.6,44.9),
(945.5,45.2),(949.5,45.1),(953.4,44.9),(957.3,45.5),(960.2,46.0),(963.1,44.9),(967.0,43.6),
(970.0,43.9),(972.9,44.9),(976.8,45.9),(980.7,46.0),(986.0,46.5),(991.7,46.1),(997.4,46.1),
(1003.1,45.9),(1010.2,45.8),(1014.4,47.8),(1018.7,50.4),(1022.9,52.1),(1027.2,52.3),(1031.4,51.8),
(1035.7,50.4),(1040.0,50.1),(1044.2,50.3),(1048.5,53.1),(1052.7,54.4),(1057.0,56.4),(1061.2,54.7),
(1065.5,54.1),(1069.8,51.8),(1074.0,47.1),(1076.9,44.5),(1081.1,45.1),(1085.4,44.1),(1089.6,43.5),
(1093.9,43.8),(1098.2,43.1),(1102.4,41.5),(1105.2,42.1),(1109.5,45.5),(1113.8,46.1),(1118.0,47.1),
(1122.3,47.8),(1126.5,49.1),(1130.8,50.8),(1135.1,51.8),(1139.3,53.4),(1145.0,53.9),(1149.2,52.4),
(1153.5,53.7),(1157.8,55.4),(1162.0,56.7),(1166.3,59.7),(1170.5,62.4),(1174.8,64.0),(1179.0,64.4),
(1181.9,65.0),(1186.1,61.7),(1190.4,57.1),(1194.7,50.4),(1198.9,43.8),(1203.2,40.5),(1207.4,38.5),
(1211.7,37.5),(1216.0,38.6),(1220.2,39.7),(1224.5,39.5),(1228.7,38.6),(1233.0,38.8),(1237.2,38.8),
(1240.1,37.8),(1247.0,35.84)]

hline_level = 25.17
last_close = 8.22
last_rsi = 28.20
last_rsi_ma = 35.84

price_ticks = [5.0, 7.5, 10.0, 12.5, 15.0, 17.5, 20.0, 22.5, 25.0, 27.5, 30.0, 32.5, 35.0, 37.5, 40.0, 42.5, 45.0, 47.5]
left_ticks = [0.6, 0.5, 0.4, 0.3, 0.2, 0.1, 0.0, -0.1, -0.2, -0.3, -0.4, -0.5]
left_labels = ["0.60", "0.50", "0.40", "0.30", "0.20", "0.10", "0.00",
               "\u22120.10", "\u22120.20", "\u22120.30", "\u22120.40", "\u22120.50"]
rsi_ticks = [30.0, 40.0, 50.0, 60.0, 70.0, 80.0]
tick_dates = ["2023-01-01", "2023-03-01", "2023-05-01", "2023-07-01", "2023-09-01", "2023-11-01",
              "2024-01-01", "2024-03-01", "2024-05-01", "2024-07-01", "2024-09-01", "2024-11-01",
              "2025-01-01", "2025-03-01", "2025-05-01", "2025-07-01", "2025-09-01", "2025-11-01",
              "2026-01-01", "2026-03-01", "2026-05-01", "2026-07-01", "2026-09-01"]
tick_labels = ["2023", "Mar", "May", "Jul", "Sep", "Nov",
               "2024", "Mar", "May", "Jul", "Sep", "Nov",
               "2025", "Mar", "May", "Jul", "Sep", "Nov",
               "2026", "Mar", "May", "Jul", "Sep"]

# ---------------------------------------------------------------- helpers
FONT = "Roboto"
TXT = "#131722"
GRID = "#f0f1f4"
BASE = pd.Timestamp("2023-01-01")
EPOCH = pd.Timestamp("1970-01-01")


def to_dates(days):
    return BASE + pd.to_timedelta(np.asarray(days, dtype=float), unit="D")


def ms(ts):
    return (pd.Timestamp(ts) - EPOCH).total_seconds() * 1000.0


def bare(width, height, x_range, y_range, **kw):
    f = figure(width=width, height=height, x_range=x_range, y_range=y_range,
               toolbar_location=None, output_backend="svg", x_axis_location=None,
               y_axis_location=None, outline_line_color=None, min_border=0,
               background_fill_color="white", border_fill_color="white", **kw)
    f.grid.visible = False
    return f


def add_label(fig, text, x, y, size="18px", color=TXT, align="left", baseline="middle",
              style="normal", xu="screen", yu="screen", **kw):
    lb = Label(x=x, y=y, x_units=xu, y_units=yu, text=text, text_font=FONT,
               text_font_size=size, text_color=color, text_align=align,
               text_baseline=baseline, text_font_style=style, **kw)
    fig.add_layout(lb)
    return lb


def axis_texts(fig, ticks, x=13):
    fig.text(x=[x] * len(ticks), y=ticks, text=["%.2f" % t for t in ticks],
             text_font=value(FONT), text_font_size=value("18px"), text_color=TXT,
             text_align="left", text_baseline="middle")


def value_box(fig, text, level, bg, fg):
    # box starts ~2px right of the pane edge, text aligned with the scale labels
    add_label(fig, text, 2, level, yu="data", size="18px", color=fg,
              background_fill_color=bg, border_radius=2,
              padding=dict(left=11, right=11, top=5, bottom=5))


p_day, p_val = zip(*price)
r_day, r_val = zip(*rsi)
m_day, m_val = zip(*rsi_ma)
tick_ms = [ms(d) for d in tick_dates]

# pane geometry (px): 71 left scale, 2382 plot area, 75 right scale
LEFT, PLOT, RIGHT = 71, 2382, 75
xs = ms(BASE + pd.Timedelta(days=-34.1))
xe = ms(BASE + pd.Timedelta(days=1360.6))
x_range = Range1d(start=xs, end=xe)
k = (xe - xs) / PLOT
t_range = Range1d(start=xs - LEFT * k, end=xe + RIGHT * k)

# ---------------------------------------------------------------- header
header = bare(2544, 29, Range1d(0, 1), Range1d(0, 1))
add_label(header, "Jay1104 created with TradingView.com, Jun 01, 2026 16:40 UTC-4", 8, 16, size="18px")

# ---------------------------------------------------------------- main pane
main_y = Range1d(3.660, 51.613)
main = bare(LEFT + PLOT, 984, x_range, main_y, x_axis_type="datetime", min_border_left=LEFT)
main.add_layout(Grid(dimension=0, ticker=FixedTicker(ticks=tick_ms), grid_line_color=GRID))
main.add_layout(Grid(dimension=1, ticker=FixedTicker(ticks=price_ticks), grid_line_color=GRID))

main.extra_y_ranges = {"left": Range1d(-0.5992, 0.6233)}
la = LinearAxis(y_range_name="left", ticker=FixedTicker(ticks=left_ticks))
la.major_label_overrides = {t: s for t, s in zip(left_ticks, left_labels)}
la.axis_line_color = None
la.major_tick_line_color = None
la.minor_tick_line_color = None
la.major_tick_out = 0
la.major_tick_in = 0
la.major_label_standoff = 13
la.major_label_text_font = FONT
la.major_label_text_font_size = "18px"
la.major_label_text_color = TXT
main.add_layout(la, "left")

main.add_layout(Span(location=hline_level, dimension="width", line_color="#FF9800",
                     line_width=2, line_dash="14 15"))
main.add_layout(Span(location=last_close, dimension="width", line_color="#2a2e39",
                     line_alpha=0.8, line_width=1, line_dash="1 3"))
main.line(x=to_dates(p_day), y=p_val, line_color="#000000", line_width=2.7)

add_label(main, "Cboe Implied Correlation Index \u00b7 1D \u00b7 CBOE  8.22  \u22120.38 (\u22124.42%)",
          13, 962, size="18.5px")
add_label(main, "Vol: The data vendor doesn't provide volume data for this symbol.", 13, 939, size="18px")

# right price scale of the main pane
main_ax = bare(RIGHT, 984, Range1d(0, RIGHT), main_y)
axis_texts(main_ax, price_ticks)
add_label(main_ax, "point", 41, 961, size="18px", align="center",
          background_fill_color="white", border_line_color="#e0e3eb", border_line_width=1,
          border_radius=6, padding=dict(left=11, right=11, top=7, bottom=7))
value_box(main_ax, "25.17", hline_level, "#FF9800", TXT)
value_box(main_ax, "8.22", last_close, "#000000", "white")

# ---------------------------------------------------------------- RSI pane
rsi_y = Range1d(22.07, 88.70)
rp = bare(LEFT + PLOT, 336, x_range, rsi_y, x_axis_type="datetime", min_border_left=LEFT)
rp.add_layout(Grid(dimension=0, ticker=FixedTicker(ticks=tick_ms), grid_line_color=GRID))
rp.add_layout(Grid(dimension=1, ticker=FixedTicker(ticks=rsi_ticks), grid_line_color=GRID))
rp.add_layout(BoxAnnotation(bottom=30, top=70, fill_color="#7E57C2", fill_alpha=0.09, line_color=None))
for lvl, alpha in [(70, 0.85), (50, 0.5), (30, 0.85)]:
    rp.add_layout(Span(location=lvl, dimension="width", line_color="#787B86", line_alpha=alpha,
                       line_width=1, line_dash="5 3"))
rp.line(x=to_dates(r_day), y=r_val, line_color="#7E57C2", line_width=1.6)
rp.line(x=to_dates(m_day), y=m_val, line_color="#FDD835", line_width=1.6)

add_label(rp, "RSI (14, close)", 13, 314, size="18px")
add_label(rp, "28.20", 137, 314, size="18px", color="#7E57C2")
add_label(rp, "35.84", 193, 314, size="18px", color="#F9C80E")

rsi_ax = bare(RIGHT, 336, Range1d(0, RIGHT), rsi_y)
axis_texts(rsi_ax, rsi_ticks)
value_box(rsi_ax, "35.84", last_rsi_ma, "#FDD835", TXT)
value_box(rsi_ax, "28.20", last_rsi, "#7E57C2", "white")

# ---------------------------------------------------------------- time scale
tf = bare(LEFT + PLOT + RIGHT, 39, t_range, Range1d(0, 39))
mon_x = [t for t, s in zip(tick_ms, tick_labels) if not s.isdigit()]
mon_s = [s for s in tick_labels if not s.isdigit()]
yr_x = [t for t, s in zip(tick_ms, tick_labels) if s.isdigit()]
yr_s = [s for s in tick_labels if s.isdigit()]
tf.text(x=mon_x, y=[16] * len(mon_x), text=mon_s, text_font=value(FONT),
        text_font_size=value("18px"), text_color=TXT, text_align="center", text_baseline="middle")
tf.text(x=yr_x, y=[16] * len(yr_x), text=yr_s, text_font=value(FONT), text_font_style="bold",
        text_font_size=value("18px"), text_color=TXT, text_align="center", text_baseline="middle")
tf.circle(x=[t_range.start + 35 * k, t_range.start + 2494 * k], y=[16, 16], radius=12.5 * k,
          fill_color="#eceef2", line_color=None)
tf.text(x=[t_range.start + 35 * k, t_range.start + 2494 * k], y=[16, 16], text=["Z", "A"],
        text_font=value(FONT), text_font_size=value("17px"), text_color="#787B86",
        text_align="center", text_baseline="middle")

panes = column(row(main, main_ax), row(rp, rsi_ax), spacing=2,
               styles={"background-color": "#e0e3eb"})
frame = column(panes, tf, spacing=1, margin=(0, 0, 0, 7),
               styles={"border": "1px solid #e0e3eb", "border-radius": "4px",
                       "background-color": "#e0e3eb"})

# ---------------------------------------------------------------- footer (logo)
footer = bare(2544, 78, Range1d(0, 2544), Range1d(0, 78))
footer.quad(left=[8, 16], right=[23, 23], top=[46, 46], bottom=[39, 22], color="#000000")
footer.circle(x=[29.5], y=[42.3], radius=3.8, color="#000000")
footer.patch(x=[35, 50, 40, 25], y=[46, 46, 22, 22], color="#000000")
add_label(footer, "TradingView", 57, 34, size="32px", style="bold", color="#000000")

page = column(header, frame, footer, spacing=0, margin=(8, 0, 0, 8))

open("out.html", "w").write(file_html(page, INLINE))
